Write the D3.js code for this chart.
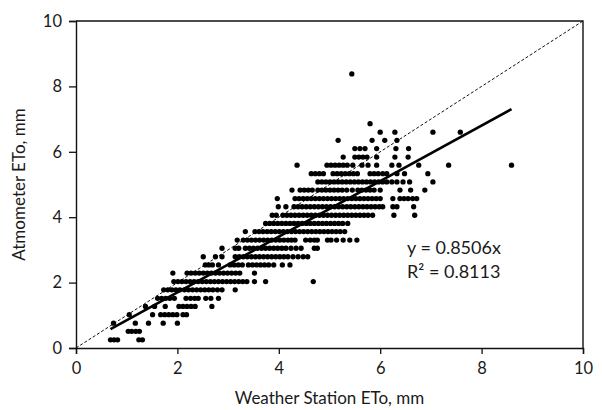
<!DOCTYPE html>
<html>
<head>
<meta charset="utf-8">
<script src="https://cdn.jsdelivr.net/npm/d3@7"></script>
<style>
  html, body { margin: 0; padding: 0; background: #fff; }
  svg text { font-family: Lato, "Open Sans", sans-serif; fill: #1a1a1a; }
</style>
</head>
<body>
<svg id="chart" width="602" height="410"></svg>
<script>
// Atmometer ETo row levels (mm) — readings are quantised rows
const rowY = [0.25, 0.51, 0.76, 1.02, 1.27, 1.52, 1.78, 2.03, 2.29, 2.54,
              2.79, 3.05, 3.30, 3.56, 3.81, 4.06, 4.32, 4.57, 4.83, 5.08,
              5.33, 5.59, 5.84, 6.10, 6.35, 6.60, 6.86, 8.38];
// Weather station ETo values (mm) for each row
const rowX = [
  [0.68, 0.75, 0.82, 1.24, 1.31],
  [1.03, 1.10, 1.18, 1.25],
  [0.74, 1.17, 1.43, 1.72, 2.00],
  [1.05, 1.51, 1.67, 1.75, 1.83, 1.91, 1.99, 2.11, 2.18],
  [1.37, 1.55, 1.76, 2.03, 2.11, 2.19, 2.27, 2.35, 2.68],
  [1.61, 1.69, 1.77, 1.85, 1.94, 2.17, 2.26, 2.34, 2.41, 2.56, 2.66, 2.81],
  [1.73, 1.81, 1.89, 1.97, 2.05, 2.14, 2.22, 2.30, 2.38, 2.46, 2.54, 2.62, 2.70, 2.79, 2.88, 3.14],
  [1.93, 2.01, 2.09, 2.17, 2.25, 2.33, 2.41, 2.49, 2.57, 2.65, 2.73, 2.81, 2.89, 2.97, 3.05, 3.13, 3.21, 3.29, 3.37, 3.52, 3.74, 4.68],
  [1.91, 2.19, 2.27, 2.35, 2.43, 2.51, 2.59, 2.67, 2.75, 2.83, 2.91, 2.99, 3.07, 3.15, 3.23, 3.52],
  [2.55, 2.62, 2.69, 2.81, 3.04, 3.12, 3.20, 3.28, 3.40, 3.48, 3.56, 3.64, 3.72, 3.80, 3.90, 4.07, 4.22],
  [2.51, 2.75, 2.88, 3.14, 3.22, 3.30, 3.38, 3.46, 3.54, 3.62, 3.70, 3.78, 3.86, 3.94, 4.02, 4.10, 4.18, 4.28, 4.38, 4.48, 4.57],
  [2.88, 3.14, 3.21, 3.34, 3.42, 3.50, 3.58, 3.66, 3.74, 3.82, 3.90, 3.98, 4.06, 4.14, 4.24, 4.34, 4.44, 4.70, 4.76],
  [3.18, 3.30, 3.38, 3.46, 3.54, 3.62, 3.70, 3.78, 3.86, 3.94, 4.02, 4.10, 4.18, 4.25, 4.32, 4.53, 4.62, 4.70, 4.76, 4.96, 5.03, 5.14, 5.27, 5.40, 5.54],
  [3.34, 3.53, 3.61, 3.69, 3.77, 3.85, 3.93, 4.01, 4.09, 4.17, 4.25, 4.33, 4.41, 4.49, 4.57, 4.65, 4.73, 4.81, 4.89, 4.97, 5.05, 5.13, 5.21, 5.30],
  [3.74, 3.82, 3.90, 3.98, 4.06, 4.14, 4.22, 4.30, 4.38, 4.46, 4.54, 4.62, 4.70, 4.78, 4.86, 4.94, 5.02, 5.10, 5.18, 5.26, 5.36],
  [3.87, 3.95, 4.08, 4.16, 4.24, 4.32, 4.40, 4.48, 4.56, 4.64, 4.72, 4.80, 4.88, 4.96, 5.04, 5.12, 5.20, 5.28, 5.36, 5.44, 5.52, 5.60, 5.68, 5.76, 5.85, 6.27, 6.68],
  [3.99, 4.14, 4.30, 4.38, 4.46, 4.54, 4.62, 4.70, 4.78, 4.86, 4.94, 5.02, 5.10, 5.18, 5.26, 5.34, 5.42, 5.50, 5.58, 5.66, 5.74, 5.82, 5.90, 5.98, 6.05, 6.25, 6.33, 6.66],
  [3.97, 4.32, 4.40, 4.48, 4.56, 4.64, 4.72, 4.80, 4.88, 4.96, 5.04, 5.12, 5.20, 5.28, 5.36, 5.44, 5.52, 5.60, 5.68, 5.76, 5.84, 5.92, 6.00, 6.25, 6.39, 6.47, 6.55, 6.64, 6.72],
  [4.26, 4.42, 4.50, 4.58, 4.66, 4.77, 4.85, 4.93, 5.01, 5.09, 5.17, 5.25, 5.34, 5.45, 5.56, 5.64, 5.72, 5.80, 5.88, 6.00, 6.39, 6.60, 6.88],
  [4.77, 4.85, 4.93, 5.01, 5.09, 5.17, 5.25, 5.33, 5.41, 5.49, 5.57, 5.65, 5.73, 5.81, 5.89, 5.97, 6.05, 6.13, 6.23, 6.33, 6.45, 6.58, 7.04],
  [4.64, 4.72, 4.80, 4.88, 5.07, 5.15, 5.23, 5.31, 5.39, 5.47, 5.55, 5.80, 5.88, 5.96, 6.05, 6.13, 6.33, 6.48, 6.94],
  [4.36, 4.95, 5.03, 5.11, 5.19, 5.27, 5.35, 5.46, 5.64, 5.76, 5.93, 6.23, 6.37, 6.76, 7.35, 8.59],
  [5.27, 5.50, 5.58, 5.66, 5.74, 5.93, 6.29, 6.55],
  [5.50, 5.60, 5.70, 5.93, 6.31, 6.56],
  [5.17, 5.84, 6.09, 6.33],
  [6.00, 6.29, 7.04, 7.58],
  [5.80],
  [5.44]
];
const tickValues = [0, 2, 4, 6, 8, 10];
const slope = 0.8506;
const eqLabel = "y = 0.8506x";
const r2Label = "R² = 0.8113";
const xTitle = "Weather Station ETo, mm";
const yTitle = "Atmometer ETo, mm";

const points = [];
rowX.forEach((xs, i) => xs.forEach(x => points.push({x: x, y: rowY[i]})));

const svg = d3.select("#chart");
const L = 76, R = 583, T = 21, B = 348;
const x = d3.scaleLinear().domain([0, 10]).range([L, R]);
const y = d3.scaleLinear().domain([0, 10]).range([B, T]);

// frame (top & right)
svg.append("path")
  .attr("d", `M${L},${T}H${R}V${B}`)
  .attr("fill", "none").attr("stroke", "#111").attr("stroke-width", 1.4);

// 1:1 dashed line
svg.append("line")
  .attr("x1", x(0)).attr("y1", y(0)).attr("x2", x(10)).attr("y2", y(10))
  .attr("stroke", "#111").attr("stroke-width", 1).attr("stroke-dasharray", "3,2");

// points
svg.append("g").selectAll("circle").data(points).join("circle")
  .attr("cx", d => x(d.x)).attr("cy", d => y(d.y)).attr("r", 2.65)
  .attr("fill", "#000");

// regression line
const xMin = d3.min(points, d => d.x), xMax = d3.max(points, d => d.x);
svg.append("line")
  .attr("x1", x(xMin)).attr("y1", y(slope * xMin))
  .attr("x2", x(xMax)).attr("y2", y(slope * xMax))
  .attr("stroke", "#000").attr("stroke-width", 2.6);

// axes
const xAxis = svg.append("g").attr("transform", `translate(0,${B})`)
  .call(d3.axisBottom(x).tickValues(tickValues).tickSize(6).tickPadding(8).tickFormat(d3.format("d")));
const yAxis = svg.append("g").attr("transform", `translate(${L},0)`)
  .call(d3.axisLeft(y).tickValues(tickValues).tickSize(7).tickPadding(7).tickFormat(d3.format("d")));
[xAxis, yAxis].forEach(g => {
  g.select(".domain").attr("stroke", "#111").attr("stroke-width", 1.4);
  g.selectAll(".tick line").attr("stroke", "#111").attr("stroke-width", 1.3);
  g.selectAll(".tick text").attr("font-size", 16.5).attr("font-family", "Lato, sans-serif").attr("fill", "#1a1a1a");
});

// equation text
svg.append("text").attr("x", 407).attr("y", 254).attr("font-size", 18).text(eqLabel);
svg.append("text").attr("x", 407).attr("y", 278).attr("font-size", 18).text(r2Label);

// axis titles
svg.append("text").attr("x", (L + R) / 2).attr("y", 404)
  .attr("text-anchor", "middle").attr("font-size", 17).text(xTitle);
svg.append("text").attr("transform", `translate(25,${(T + B) / 2}) rotate(-90)`)
  .attr("text-anchor", "middle").attr("font-size", 17).text(yTitle);
</script>
</body>
</html>
